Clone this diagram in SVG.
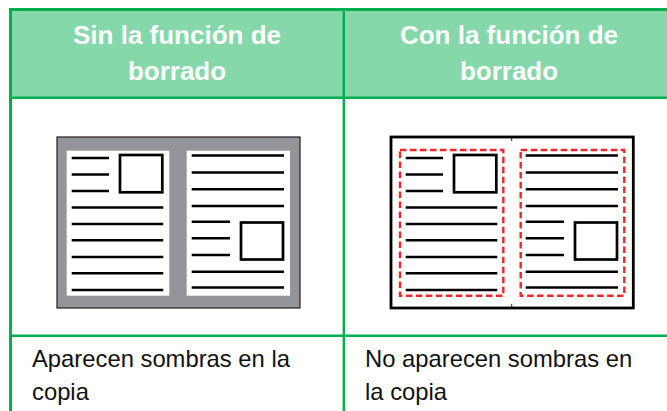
<svg xmlns="http://www.w3.org/2000/svg" xmlns:xlink="http://www.w3.org/1999/xlink" width="667" height="411" viewBox="0 0 667 411">
<style>
.grid{stroke:#00b050;fill:none}
.hdr{font-family:"Liberation Sans",Arial,sans-serif;font-weight:bold;font-size:26px;fill:#ffffff;text-anchor:middle}
.cap{font-family:"Liberation Sans",Arial,sans-serif;font-size:23.8px;fill:#111111}
.ln{stroke:#000;stroke-width:2.5;fill:none}
.sq{stroke:#000;stroke-width:2.7;fill:none}
.dash{stroke:#f0262b;stroke-width:2.4;stroke-dasharray:6.5 3.5;fill:none}
.page{fill:#ffffff}
</style>
<defs>
<g id="content">
<line class="ln" x1="14.7" y1="21" x2="52" y2="21"/>
<line class="ln" x1="14.7" y1="37.5" x2="52" y2="37.5"/>
<line class="ln" x1="14.7" y1="54" x2="52" y2="54"/>
<line class="ln" x1="14.7" y1="70.5" x2="106.3" y2="70.5"/>
<line class="ln" x1="14.7" y1="87" x2="106.3" y2="87"/>
<line class="ln" x1="14.7" y1="103.3" x2="106.3" y2="103.3"/>
<line class="ln" x1="14.7" y1="120" x2="106.3" y2="120"/>
<line class="ln" x1="14.7" y1="136.3" x2="106.3" y2="136.3"/>
<line class="ln" x1="14.7" y1="153" x2="106.3" y2="153"/>
<rect class="sq" x="63" y="18" width="42.3" height="37.3"/>
<line class="ln" x1="134.7" y1="18.5" x2="227" y2="18.5"/>
<line class="ln" x1="134.7" y1="35.5" x2="227" y2="35.5"/>
<line class="ln" x1="134.7" y1="52.2" x2="227" y2="52.2"/>
<line class="ln" x1="134.7" y1="69" x2="227" y2="69"/>
<line class="ln" x1="134.7" y1="84.7" x2="173" y2="84.7"/>
<line class="ln" x1="134.7" y1="101.3" x2="173" y2="101.3"/>
<line class="ln" x1="134.7" y1="118" x2="173" y2="118"/>
<line class="ln" x1="134.7" y1="134.7" x2="227" y2="134.7"/>
<line class="ln" x1="134.7" y1="150.5" x2="227" y2="150.5"/>
<rect class="sq" x="184" y="85.5" width="42" height="37"/>
</g>
</defs>

<g id="table">
<rect x="10.5" y="9.5" width="670" height="88" fill="#84d8a9"/>
<line class="grid" stroke-width="3" x1="9" y1="9.5" x2="680" y2="9.5"/>
<line class="grid" stroke-width="3" x1="10.5" y1="8" x2="10.5" y2="420"/>
<line class="grid" stroke-width="2.4" x1="10.5" y1="97.7" x2="680" y2="97.7"/>
<line class="grid" stroke-width="2.4" x1="343.8" y1="9.5" x2="343.8" y2="420"/>
<line class="grid" stroke-width="2.4" x1="10.5" y1="335.7" x2="680" y2="335.7"/>
</g>

<g id="header-left">
<text class="hdr" x="177" y="43.5">Sin la función de</text>
<text class="hdr" x="177" y="80">borrado</text>
</g>
<g id="header-right">
<text class="hdr" x="509" y="43.5">Con la función de</text>
<text class="hdr" x="509" y="80">borrado</text>
</g>

<g id="fig-left" transform="translate(57,137)">
<rect x="0" y="0" width="243" height="171" fill="#939598" stroke="#231f20" stroke-width="1.2"/>
<rect class="page" x="9.7" y="13.7" width="102.6" height="145"/>
<rect class="page" x="129.7" y="13.7" width="103.3" height="145"/>
<use xlink:href="#content"/>
</g>

<g id="fig-right" transform="translate(391,137)">
<rect x="0" y="0" width="242.3" height="171" fill="#ffffff" stroke="#000" stroke-width="2.8"/>
<line x1="120.7" y1="0" x2="120.7" y2="4" stroke="#000" stroke-width="0.8"/>
<line x1="120.7" y1="167" x2="120.7" y2="171" stroke="#000" stroke-width="0.8"/>
<rect class="dash" x="9" y="13" width="103.3" height="145.7"/>
<rect class="dash" x="129.7" y="13" width="103.6" height="145.7"/>
<use xlink:href="#content"/>
</g>

<g id="caption-left">
<text class="cap" x="32" y="367">Aparecen sombras en la</text>
<text class="cap" x="32" y="400">copia</text>
</g>
<g id="caption-right">
<text class="cap" x="365" y="367">No aparecen sombras en</text>
<text class="cap" x="365" y="400">la copia</text>
</g>
</svg>
